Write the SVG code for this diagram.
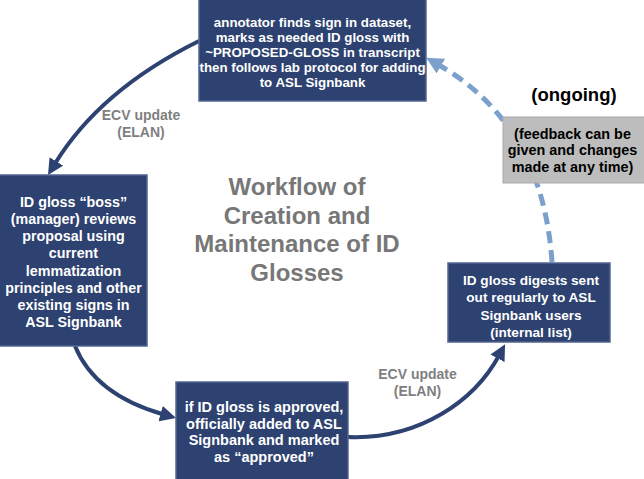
<svg xmlns="http://www.w3.org/2000/svg" width="644" height="479" viewBox="0 0 644 479">
<defs>
<style>
.box{fill:#2d4270;stroke:#52668f;stroke-width:1.5}
.bt{font-family:"Liberation Sans",Arial,sans-serif;font-weight:bold;fill:#ffffff;text-anchor:middle}
.gt{font-family:"Liberation Sans",Arial,sans-serif;font-weight:bold;fill:#000000;text-anchor:middle}
.lbl{font-family:"Liberation Sans",Arial,sans-serif;font-weight:bold;fill:#7f7f7f;text-anchor:middle;font-size:14px}
.title{font-family:"Liberation Sans",Arial,sans-serif;font-weight:bold;fill:#777777;text-anchor:middle;font-size:24px}
.solid{fill:none;stroke:#2d4270;stroke-width:4}
.dash{fill:none;stroke:#7ba0cc;stroke-width:5;stroke-dasharray:12 7}
</style>
<marker id="ah" viewBox="0 0 10 10" refX="2" refY="5" markerWidth="16" markerHeight="16" markerUnits="userSpaceOnUse" orient="auto">
<path d="M0,0 L10,5 L0,10 z" fill="#2d4270"/>
</marker>
<marker id="ahd" viewBox="0 0 10 10" refX="2" refY="5" markerWidth="17" markerHeight="17" markerUnits="userSpaceOnUse" orient="auto">
<path d="M0,0 L10,5 L0,10 z" fill="#7ba0cc"/>
</marker>
</defs>
<rect width="644" height="479" fill="#ffffff"/>
<g id="connectors">
<path class="solid" d="M199,41 Q100,90 54.7,164.1" marker-end="url(#ah)"/>
<path class="solid" d="M75,346 Q95,395 163.7,414.5" marker-end="url(#ah)"/>
<path class="solid" d="M348,437 C420,440 475,400 499,355.5" marker-end="url(#ah)"/>
<path class="dash" d="M552,262 C545,160 500,100 438,64.5" marker-end="url(#ahd)"/>
</g>
<g id="title">
<text class="title" x="297" y="195">Workflow of</text>
<text class="title" x="297" y="223.5">Creation and</text>
<text class="title" x="297" y="252">Maintenance of ID</text>
<text class="title" x="297" y="280.5">Glosses</text>
</g>
<g id="label-ecv-1">
<text class="lbl" x="141" y="120">ECV update</text>
<text class="lbl" x="141" y="136.5">(ELAN)</text>
</g>
<g id="label-ecv-2">
<text class="lbl" x="417.5" y="378.5">ECV update</text>
<text class="lbl" x="417.5" y="396">(ELAN)</text>
</g>
<g id="node-annotator">
<rect class="box" x="199" y="-2" width="227" height="103"/>
<text class="bt" font-size="13.3" x="312.5" y="26.5">annotator finds sign in dataset,</text>
<text class="bt" font-size="13.3" x="312.5" y="41.7">marks as needed ID gloss with</text>
<text class="bt" font-size="13.3" x="312.5" y="56.9">~PROPOSED-GLOSS in transcript</text>
<text class="bt" font-size="13.3" x="312.5" y="72.1">then follows lab protocol for adding</text>
<text class="bt" font-size="13.3" x="312.5" y="87.3">to ASL Signbank</text>
</g>
<g id="node-boss">
<rect class="box" x="-2" y="175" width="149" height="171"/>
<text class="bt" font-size="14.3" x="73.5" y="206.7">ID gloss “boss”</text>
<text class="bt" font-size="14.3" x="73.5" y="223.9">(manager) reviews</text>
<text class="bt" font-size="14.3" x="73.5" y="241.1">proposal using</text>
<text class="bt" font-size="14.3" x="73.5" y="258.3">current</text>
<text class="bt" font-size="14.3" x="73.5" y="275.5">lemmatization</text>
<text class="bt" font-size="14.3" x="73.5" y="292.7">principles and other</text>
<text class="bt" font-size="14.3" x="73.5" y="309.9">existing signs in</text>
<text class="bt" font-size="14.3" x="73.5" y="327.1">ASL Signbank</text>
</g>
<g id="node-approved">
<rect class="box" x="176" y="382" width="172" height="99"/>
<text class="bt" font-size="14.5" x="264" y="411.7">if ID gloss is approved,</text>
<text class="bt" font-size="14.5" x="264" y="428.5">officially added to ASL</text>
<text class="bt" font-size="14.5" x="264" y="445.3">Signbank and marked</text>
<text class="bt" font-size="14.5" x="264" y="462.1">as “approved”</text>
</g>
<g id="node-digests">
<rect class="box" x="448" y="263" width="162" height="79"/>
<text class="bt" font-size="13.6" x="531" y="285">ID gloss digests sent</text>
<text class="bt" font-size="13.6" x="531" y="302.4">out regularly to ASL</text>
<text class="bt" font-size="13.6" x="531" y="319.8">Signbank users</text>
<text class="bt" font-size="13.6" x="531" y="337.2">(internal list)</text>
</g>
<g id="node-feedback">
<rect x="503" y="117" width="143" height="66" fill="#bdbdbd" stroke="#a9a9a9" stroke-width="1"/>
<text class="gt" font-size="14.4" x="572.5" y="138.5">(feedback can be</text>
<text class="gt" font-size="14.4" x="572.5" y="155.2">given and changes</text>
<text class="gt" font-size="14.4" x="572.5" y="171.9">made at any time)</text>
</g>
<g id="label-ongoing">
<text class="gt" font-size="18.5" x="574" y="101">(ongoing)</text>
</g>
</svg>
